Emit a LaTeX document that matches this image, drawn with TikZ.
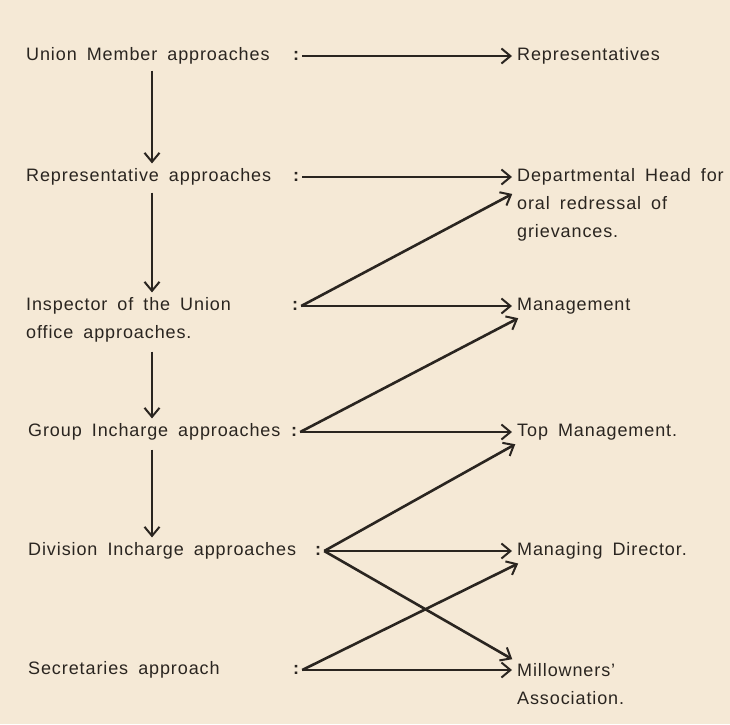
\documentclass[tikz,border=0pt]{standalone}
\usepackage{fontspec}
\setmainfont[LetterSpace=5, WordSpace=1.7]{Liberation Sans}
\usetikzlibrary{arrows.meta}

\definecolor{paper}{RGB}{245,233,214}
\definecolor{ink}{RGB}{42,37,32}

\begin{document}
\begin{tikzpicture}[x=1pt, y=-1pt,
    every node/.style={text=ink, font=\fontsize{18}{28}\selectfont, inner sep=3pt},
    lbl/.style={anchor=west, align=left},
    colon/.style={font=\fontsize{18}{28}\selectfont\bfseries},
    arr/.style={draw=ink, line width=2.6pt, shorten >=2pt,
      -{Straight Barb[length=9pt,width=15pt,line width=2pt]}}]
    \fill[paper] (0,0) rectangle (730,724);
    \useasboundingbox (0,0) rectangle (730,724);

    % left column
    \node [lbl] (union) at (23,56) {Union Member approaches};
    \node [lbl] (rep) at (23,177) {Representative  approaches};
    \node [lbl] (insp) at (23,320) {Inspector of the Union\\office approaches.};
    \node [lbl] (group) at (25,432) {Group Incharge approaches};
    \node [lbl] (div) at (25,551) {Division Incharge approaches};
    \node [lbl] (sec) at (25,670) {Secretaries approach};

    % colons
    \node [colon] (c1) at (296,56) {:};
    \node [colon] (c2) at (296,177) {:};
    \node [colon] (c3) at (295,306) {:};
    \node [colon] (c4) at (294,432) {:};
    \node [colon] (c5) at (318,551) {:};
    \node [colon] (c6) at (296,670) {:};

    % right column
    \node [lbl] (reps) at (514,56) {Representatives};
    \node [lbl] (dept) at (514,205) {Departmental Head for\\oral redressal of\\grievances.};
    \node [lbl] (mgmt) at (514,306) {Management};
    \node [lbl] (top) at (514,432) {Top Management.};
    \node [lbl] (md) at (514,551) {Managing Director.};
    \node [lbl] (mill) at (514,684) {Millowners'\\Association.};

    \coordinate (axis) at (152,0);

    % chain downwards
    \draw [arr, shorten <=3pt] (union.south -| axis) -- (rep.north -| axis);
    \draw [arr, shorten <=4pt] (rep.south -| axis) -- (insp.north -| axis);
    \draw [arr, shorten <=6pt] (insp.south -| axis) -- (group.north -| axis);
    \draw [arr, shorten <=6pt] (group.south -| axis) -- (div.north -| axis);

    % approaches
    \draw [arr] (c1.east) -- (c1.east -| reps.west);
    \draw [arr] (c2.east) -- (c2.east -| dept.west);
    \draw [arr] (c3.east) -- (c3.east -| mgmt.west);
    \draw [arr] (c3.east) -- ([yshift=12pt]dept.west);
    \draw [arr] (c4.east) -- (c4.east -| top.west);
    \draw [arr] (c4.east) -- ([xshift=6pt]mgmt.south west);
    \draw [arr] (c5.east) -- (c5.east -| md.west);
    \draw [arr] (c5.east) -- ([xshift=3pt]top.south west);
    \draw [arr] (c5.east) -- (mill.north west);
    \draw [arr] (c6.east) -- (c6.east -| mill.west);
    \draw [arr] (c6.east) -- ([xshift=6pt]md.south west);
\end{tikzpicture}
\end{document}
